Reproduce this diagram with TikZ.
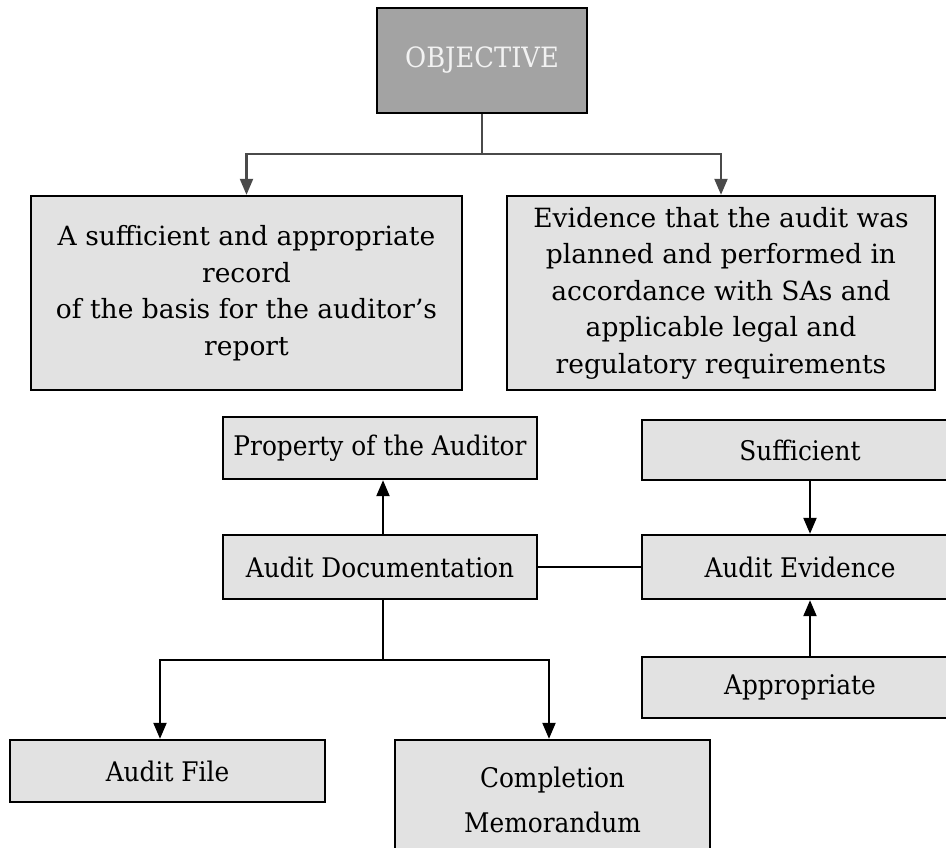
\documentclass[tikz,border=0pt]{standalone}
\usepackage{fontspec}
\setmainfont{DejaVu Serif}
\newfontfamily\condfont[FakeStretch=0.92]{DejaVu Serif}
\usetikzlibrary{arrows.meta}
\definecolor{boxfill}{HTML}{E2E2E2}
\definecolor{objfill}{HTML}{A3A3A3}
\definecolor{objtext}{HTML}{F2F2F2}
\definecolor{toparrow}{HTML}{4A4A4A}
\tikzset{
  box/.style={draw=black, line width=2.4pt, fill=boxfill, rectangle, inner sep=0pt, align=center, text=black},
  bigtext/.style={font=\fontsize{26.5}{36.5}\selectfont},
  smalltext/.style={font=\condfont\fontsize{27}{45}\selectfont},
  conn/.style={line width=2.2pt, draw=black},
  arr/.style={conn, -{Triangle[length=16pt,width=13pt]}},
  toparr/.style={line width=2.2pt, draw=toparrow, -{Triangle[length=16pt,width=13pt]}}
}
\begin{document}
\begin{tikzpicture}[x=1pt,y=-1pt]
\useasboundingbox (0,0) rectangle (946,847);
\clip (0,0) rectangle (946,847);
\fill[white] (0,0) rectangle (946,847);
% nodes
\node[box, fill=objfill, text=objtext, font=\condfont\fontsize{28}{30}\selectfont, minimum width=210pt, minimum height=105pt] (obj) at (482,60.5) {OBJECTIVE};
\node[box, bigtext, minimum width=431pt, minimum height=194pt] (left) at (246.5,293) {A sufficient and appropriate\\record\\of the basis for the auditor’s\\report};
\node[box, bigtext, minimum width=428pt, minimum height=194pt] (right) at (721,293) {Evidence that the audit was\\planned and performed in\\accordance with SAs and\\applicable legal and\\regulatory requirements};
\node[box, smalltext, minimum width=314pt, minimum height=62pt] (prop) at (380,448) {Property of the Auditor};
\node[box, smalltext, minimum width=316pt, minimum height=60pt] (suff) at (800,450) {Sufficient};
\node[box, smalltext, minimum width=314pt, minimum height=64pt] (doc) at (380,567) {Audit Documentation};
\node[box, smalltext, minimum width=316pt, minimum height=64pt] (evid) at (800,567) {Audit Evidence};
\node[box, smalltext, minimum width=316pt, minimum height=61pt] (appr) at (800,687.5) {Appropriate};
\node[box, smalltext, minimum width=315pt, minimum height=62pt] (file) at (167.5,771) {Audit File};
\node[box, smalltext, minimum width=315pt, minimum height=120pt] (memo) at (552.5,800) {Completion\\Memorandum};
% junctions
\coordinate (j1) at (482,154);
\coordinate (j2) at (383,660);
% connectors
\draw[line width=2.2pt, draw=toparrow] (obj.south) -- (j1);
\draw[toparr] (j1) -| (left.north);
\draw[toparr] (j1) -| (right.north);
\draw[arr] ([xshift=3pt]doc.north) -- ([xshift=3pt]prop.south);
\draw[conn] (doc.east) -- (evid.west);
\draw[arr] ([xshift=10pt]suff.south) -- ([xshift=10pt]evid.north);
\draw[arr] ([xshift=10pt]appr.north) -- ([xshift=10pt]evid.south);
\draw[conn] ([xshift=3pt]doc.south) -- (j2);
\draw[arr] (j2) -| ([xshift=-7.5pt]file.north);
\draw[arr] (j2) -| ([xshift=-3.5pt]memo.north);
\end{tikzpicture}
\end{document}
